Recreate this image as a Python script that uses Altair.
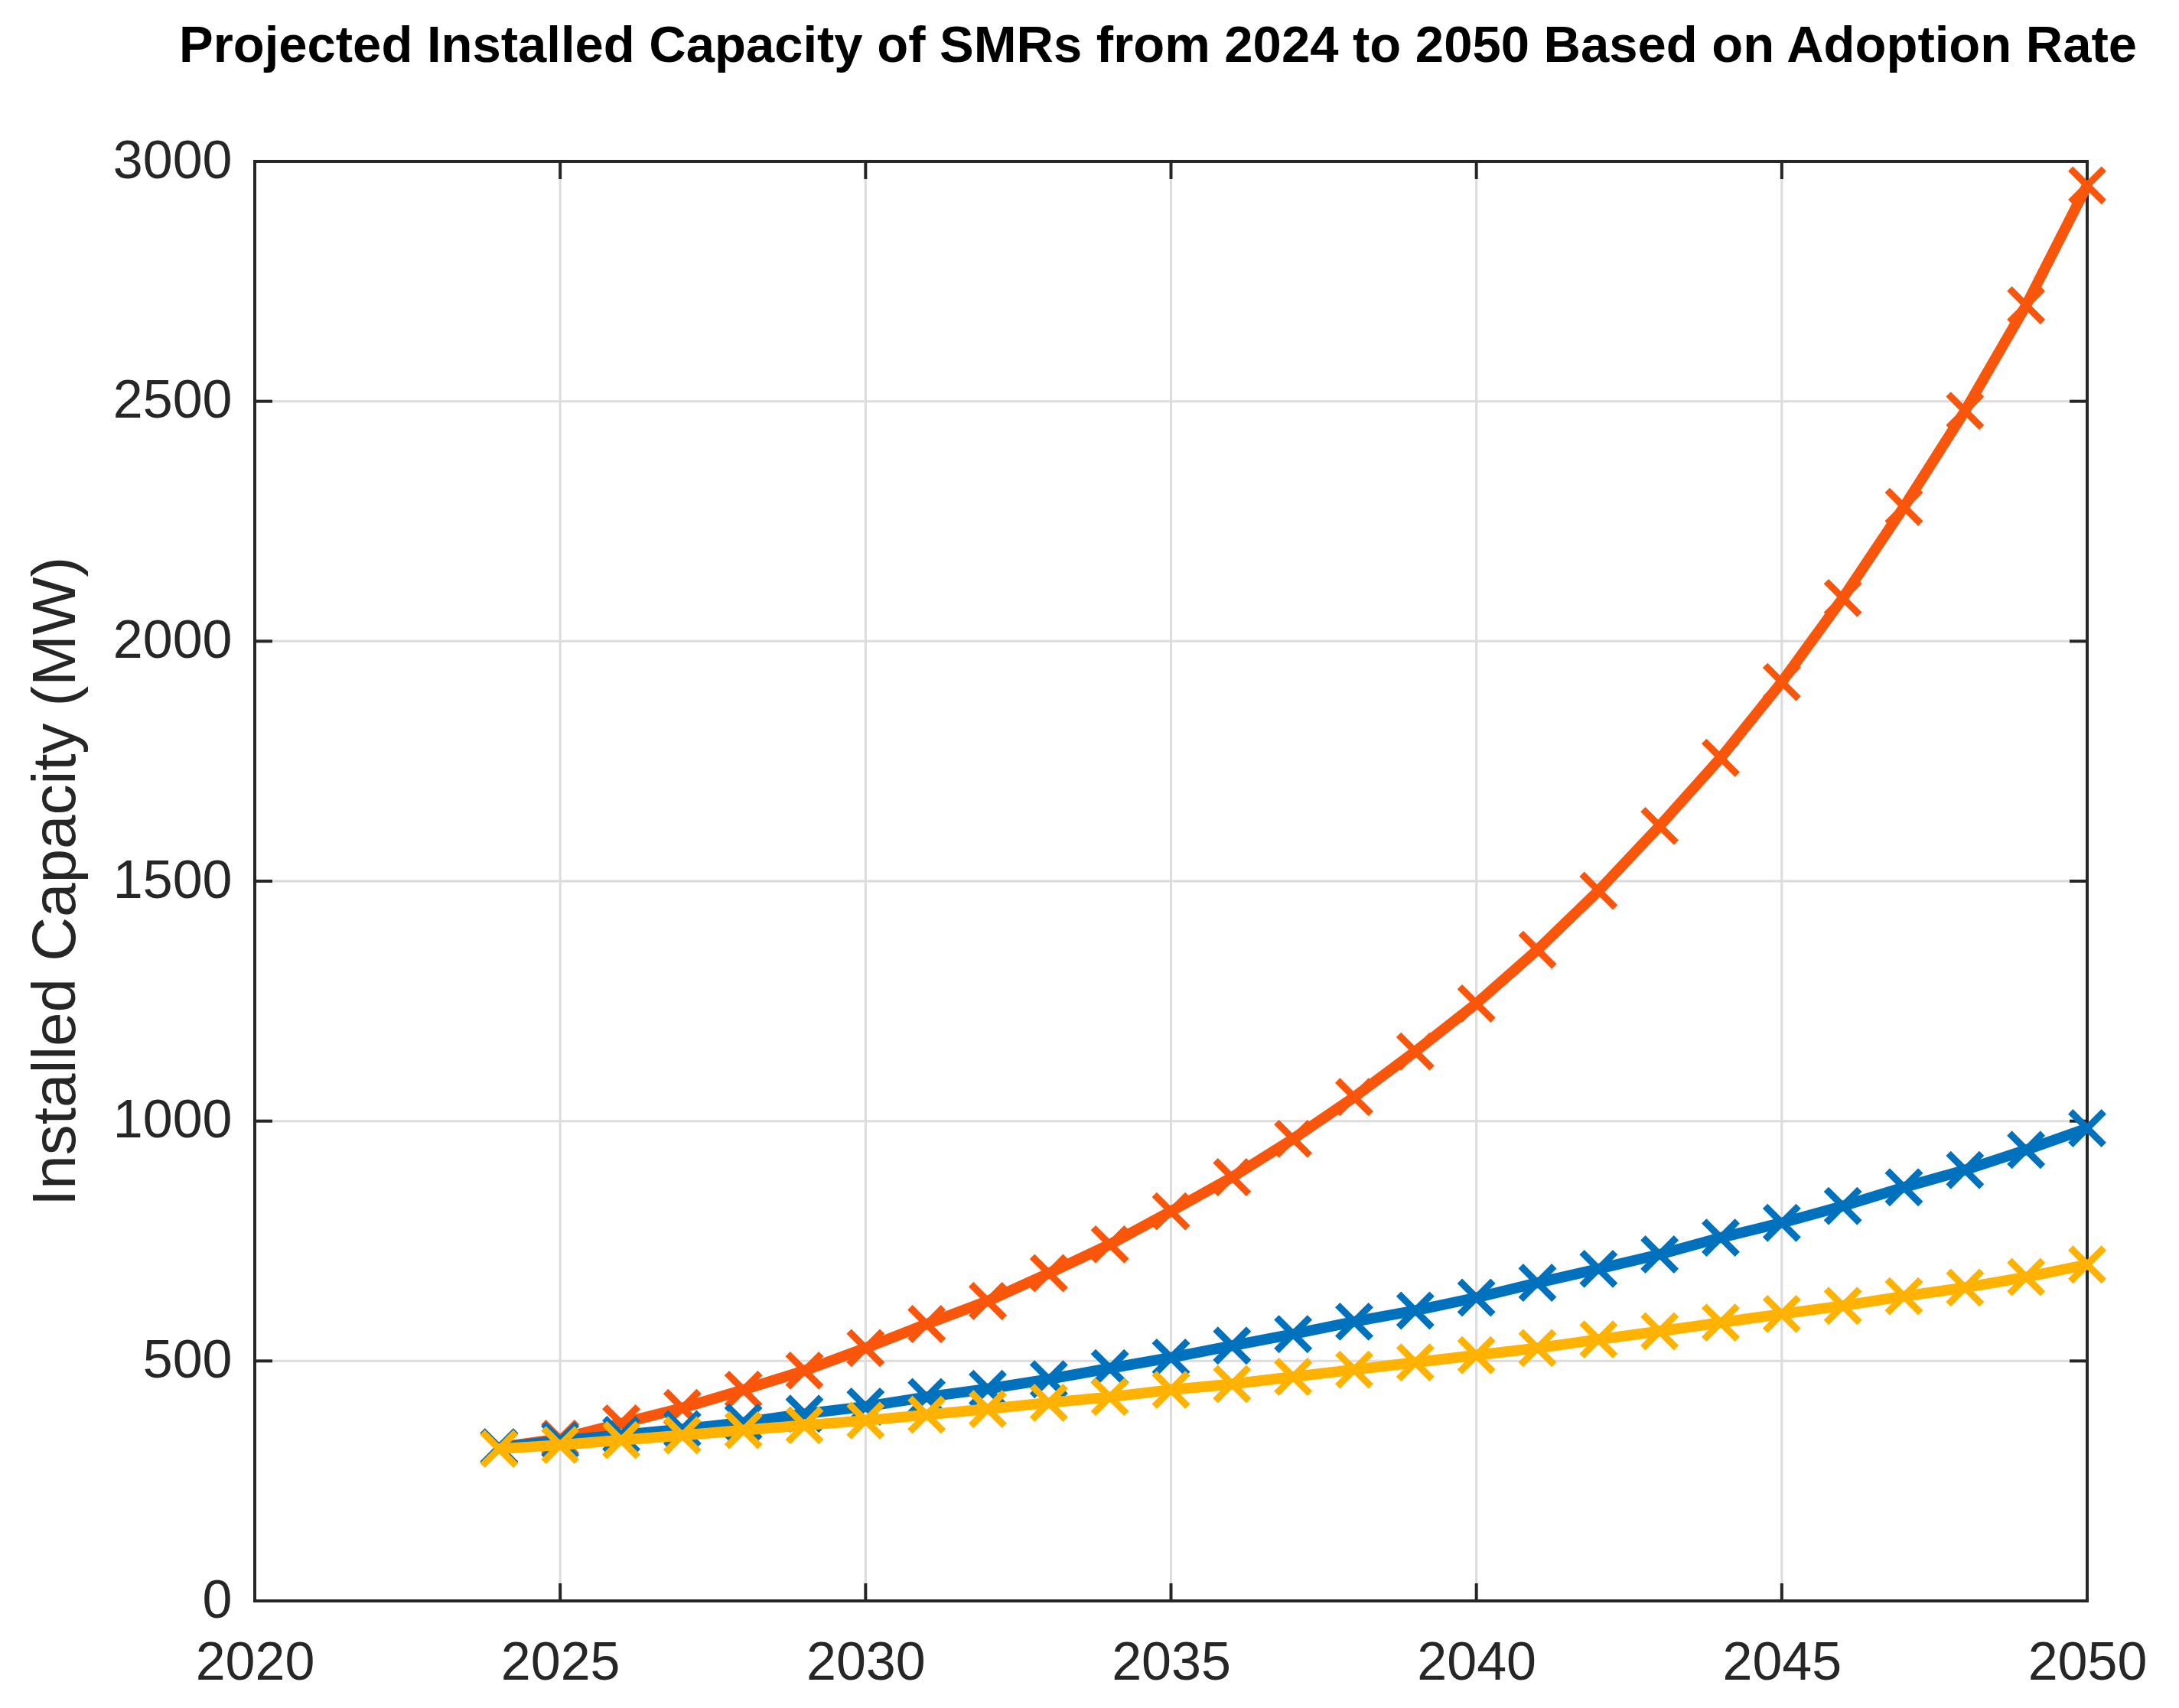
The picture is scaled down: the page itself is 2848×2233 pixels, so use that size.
import altair as alt
import pandas as pd

# ---- data ----
years = list(range(2024, 2051))
high_rate = [320, 338, 370, 402, 440, 480, 527, 577, 625, 683, 743, 812, 883, 963,
             1050, 1145, 1245, 1357, 1480, 1615, 1757, 1915, 2090, 2280, 2480, 2700, 2950]
mid_rate = [320, 334, 346, 358, 372, 390, 405, 425, 442, 462, 485, 507, 532, 556,
            582, 605, 632, 663, 692, 722, 757, 788, 823, 862, 898, 940, 985]
low_rate = [317, 325, 335, 345, 356, 366, 376, 388, 400, 413, 425, 440, 452, 467,
            482, 497, 512, 527, 545, 562, 580, 598, 615, 635, 653, 675, 701]

series_names = ["High adoption", "Moderate adoption", "Low adoption"]
series_colors = ["#F9560B", "#0072BD", "#FFB300"]

x_tick_labels = [2020, 2025, 2030, 2035, 2040, 2045, 2050]
y_tick_labels = [0, 500, 1000, 1500, 2000, 2500, 3000]
x_inner = [2025, 2030, 2035, 2040, 2045]
y_inner = [500, 1000, 1500, 2000, 2500]

# ---- layout / style ----
W, H = 2395, 1882
TICK = 23
AX = "#262626"
FONT = "Liberation Sans"

x_enc = alt.X(
    "year:Q",
    scale=alt.Scale(domain=[2020, 2050], nice=False, zero=False),
    axis=alt.Axis(values=x_tick_labels, format="d", grid=False, ticks=False, tickSize=0,
                  domain=False, labelPadding=47, labelFontSize=70, labelFont=FONT,
                  labelColor=AX, labelFlush=False, title=None),
)
y_enc = alt.Y(
    "value:Q",
    scale=alt.Scale(domain=[0, 3000], nice=False),
    axis=alt.Axis(values=y_tick_labels, format="d", grid=False, ticks=False, tickSize=0,
                  domain=False, labelPadding=30, labelFontSize=70, labelFont=FONT,
                  labelColor=AX, labelFlush=False,
                  title="Installed Capacity (MW)", titleFontSize=80, titleFont=FONT,
                  titleFontWeight="normal", titleColor=AX, titleX=-236, titleY=H / 2,
                  titleAngle=270, titleAlign="center", titleBaseline="alphabetic"),
)

xg = pd.DataFrame({"year": x_inner})
yg = pd.DataFrame({"value": y_inner})

grid_x = alt.Chart(xg).mark_rule(color="#DCDCDC", strokeWidth=3).encode(
    x=x_enc, y=alt.value(0), y2=alt.value(H))
grid_y = alt.Chart(yg).mark_rule(color="#DCDCDC", strokeWidth=3).encode(
    y=y_enc, x=alt.value(0), x2=alt.value(W))

tick_b = alt.Chart(xg).mark_rule(color=AX, strokeWidth=4).encode(
    x=x_enc, y=alt.value(H), y2=alt.value(H - TICK))
tick_t = alt.Chart(xg).mark_rule(color=AX, strokeWidth=4).encode(
    x=x_enc, y=alt.value(0), y2=alt.value(TICK))
tick_l = alt.Chart(yg).mark_rule(color=AX, strokeWidth=4).encode(
    y=y_enc, x=alt.value(0), x2=alt.value(TICK))
tick_r = alt.Chart(yg).mark_rule(color=AX, strokeWidth=4).encode(
    y=y_enc, x=alt.value(W), x2=alt.value(W - TICK))

layers = [grid_x, grid_y, tick_b, tick_t, tick_l, tick_r]
for name, vals, col in zip(series_names, [high_rate, mid_rate, low_rate], series_colors):
    df = pd.DataFrame({"year": years, "value": vals, "series": name})
    line = alt.Chart(df).mark_line(color=col, strokeWidth=14).encode(x=x_enc, y=y_enc)
    pts = alt.Chart(df).mark_point(
        shape="M-1,-1L1,1M-1,1L1,-1", filled=False, color=col, size=1900,
        strokeWidth=9, opacity=1).encode(x=x_enc, y=y_enc)
    layers += [line, pts]

chart = alt.layer(*layers).properties(
    width=W,
    height=H,
    title=alt.TitleParams(
        text="Projected Installed Capacity of SMRs from 2024 to 2050 Based on Adoption Rate",
        fontSize=67, font=FONT, fontWeight="bold", color="black", anchor="middle",
        frame="group", offset=28, baseline="alphabetic", dx=-17),
    padding={"left": 325, "top": 203, "right": 100, "bottom": 138},
    autosize=alt.AutoSizeParams(type="none"),
    background="white",
).configure_view(stroke=AX, strokeWidth=4)

chart.save("out.html", embed_options={"renderer": "svg", "actions": False})
